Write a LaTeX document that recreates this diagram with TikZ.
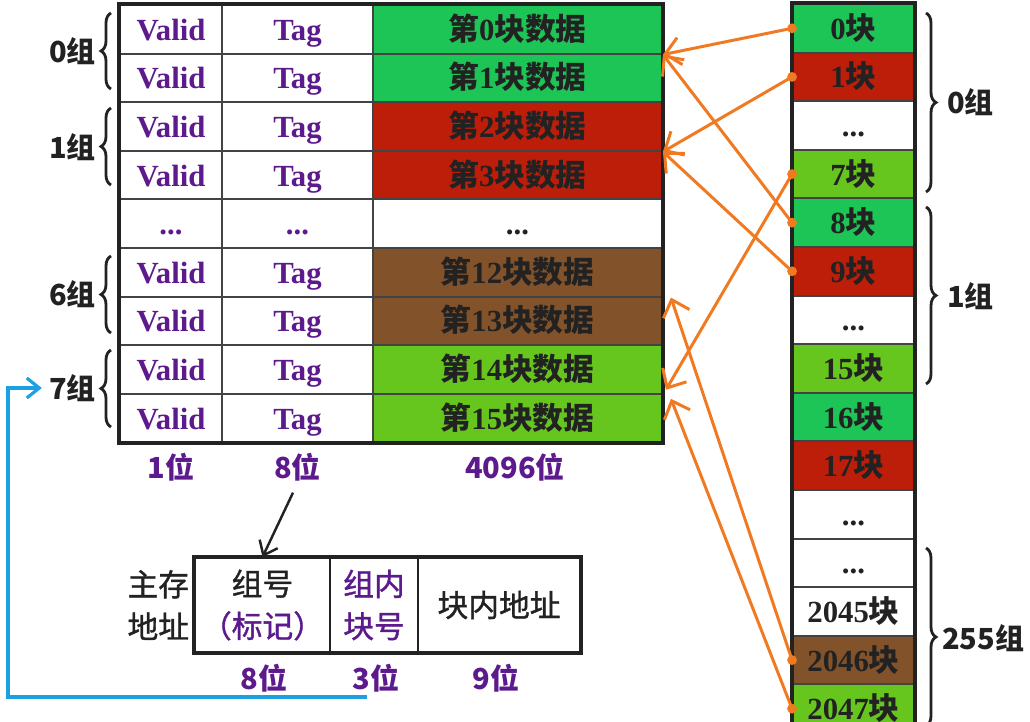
\documentclass[tikz,border=0pt]{standalone}
\usepackage{fontspec}
\setmainfont{Liberation Serif}
\newfontfamily\cjk{Noto Sans CJK SC}
\newfontfamily\cjkmid{Noto Sans CJK SC}[FakeBold=1.2]
\usetikzlibrary{arrows.meta,decorations.pathreplacing,calc}

\definecolor{vpurple}{RGB}{92,26,140}
\definecolor{blkgreen}{RGB}{29,196,86}
\definecolor{blkred}{RGB}{188,30,10}
\definecolor{blklime}{RGB}{103,198,30}
\definecolor{blkbrown}{RGB}{130,82,42}
\definecolor{maporange}{RGB}{240,122,34}
\definecolor{addrblue}{RGB}{27,161,226}
\definecolor{ink}{RGB}{34,34,34}

\newcommand{\zh}[1]{{\cjk #1}}
\newcommand{\blkdata}[1]{\zh{第}#1\zh{块数据}}
\newcommand{\blk}[1]{#1\zh{块}}

\tikzset{
  valcell/.style={draw=ink!85, line width=1.1pt, minimum width=2.04cm, minimum height=0.972cm,
    inner sep=0pt, text height=12.6pt, text depth=0pt, text=vpurple,
    font=\bfseries\fontsize{17.5}{19}\selectfont},
  tagcell/.style={valcell, minimum width=3.02cm},
  datacell/.style={valcell, minimum width=5.78cm, text=ink},
  memcell/.style={valcell, minimum width=2.42cm, text=ink},
  outline/.style={draw=ink, line width=2.2pt},
  grouplabel/.style={inner sep=1pt, text=ink, font=\cjk\bfseries\fontsize{16.5}{18}\selectfont},
  bitlabel/.style={inner sep=1pt, text=vpurple, font=\cjk\bfseries\fontsize{16.5}{18}\selectfont},
  groupbrace/.style={decorate, decoration={brace, amplitude=2mm}, line width=1.6pt, draw=ink},
  maplink/.style={draw=maporange, line width=1.7pt, -{Straight Barb[length=3mm, width=5.5mm]}},
  mapdot/.style={fill=maporange},
  addrcell/.style={draw=ink, line width=1.1pt, minimum height=1.88cm, inner sep=0pt,
    align=center, text=ink, font=\cjkmid\fontsize{17.5}{24}\selectfont},
  addrlink/.style={draw=addrblue, line width=1.8pt, -{Straight Barb[length=2.5mm, width=4mm]}}
}

\begin{document}
\begin{tikzpicture}[x=0.02cm, y=-0.02cm]
  \useasboundingbox (0,0) rectangle (1030,722);
  \clip (0,0) rectangle (1030,722);

  % cache lines: valid | tag | data
  \node[valcell] (v0) at (171,29.3) {Valid};
  \node[tagcell] (t0) at (297.5,29.3) {Tag};
  \node[datacell, fill=blkgreen] (d0) at (517.5,29.3) {\blkdata{0}};
  \node[valcell] (v1) at (171,77.9) {Valid};
  \node[tagcell] (t1) at (297.5,77.9) {Tag};
  \node[datacell, fill=blkgreen] (d1) at (517.5,77.9) {\blkdata{1}};
  \node[valcell] (v2) at (171,126.5) {Valid};
  \node[tagcell] (t2) at (297.5,126.5) {Tag};
  \node[datacell, fill=blkred] (d2) at (517.5,126.5) {\blkdata{2}};
  \node[valcell] (v3) at (171,175.1) {Valid};
  \node[tagcell] (t3) at (297.5,175.1) {Tag};
  \node[datacell, fill=blkred] (d3) at (517.5,175.1) {\blkdata{3}};
  \node[valcell] (v4) at (171,223.7) {...};
  \node[tagcell] (t4) at (297.5,223.7) {...};
  \node[datacell] (d4) at (517.5,223.7) {...};
  \node[valcell] (v5) at (171,272.3) {Valid};
  \node[tagcell] (t5) at (297.5,272.3) {Tag};
  \node[datacell, fill=blkbrown] (d5) at (517.5,272.3) {\blkdata{12}};
  \node[valcell] (v6) at (171,320.9) {Valid};
  \node[tagcell] (t6) at (297.5,320.9) {Tag};
  \node[datacell, fill=blkbrown] (d6) at (517.5,320.9) {\blkdata{13}};
  \node[valcell] (v7) at (171,369.5) {Valid};
  \node[tagcell] (t7) at (297.5,369.5) {Tag};
  \node[datacell, fill=blklime] (d7) at (517.5,369.5) {\blkdata{14}};
  \node[valcell] (v8) at (171,418.1) {Valid};
  \node[tagcell] (t8) at (297.5,418.1) {Tag};
  \node[datacell, fill=blklime] (d8) at (517.5,418.1) {\blkdata{15}};
  \draw[outline] (v0.north west) rectangle (d8.south east);

  \node[bitlabel] (w1) at (171,467) {1位};
  \node[bitlabel] (w8) at (297.5,467) {8位};
  \node[bitlabel] (w4096) at (515,467) {4096位};

  % cache groups
  \draw[groupbrace] (111,89) -- (111,13);
  \node[grouplabel, anchor=east] (g0L) at (98,51) {0组};
  \draw[groupbrace] (111,185) -- (111,108);
  \node[grouplabel, anchor=east] (g1L) at (98,147) {1组};
  \draw[groupbrace] (111,333) -- (111,256);
  \node[grouplabel, anchor=east] (g6L) at (98,294) {6组};
  \draw[groupbrace] (111,427) -- (111,350);
  \node[grouplabel, anchor=east] (g7L) at (98,388) {7组};

  % main memory blocks
  \node[memcell, fill=blkgreen] (b0) at (853.5,28.3) {\blk{0}};
  \node[memcell, fill=blkred] (b1) at (853.5,76.9) {\blk{1}};
  \node[memcell] (b2) at (853.5,125.5) {...};
  \node[memcell, fill=blklime] (b7) at (853.5,174.1) {\blk{7}};
  \node[memcell, fill=blkgreen] (b8) at (853.5,222.7) {\blk{8}};
  \node[memcell, fill=blkred] (b9) at (853.5,271.3) {\blk{9}};
  \node[memcell] (b10) at (853.5,319.9) {...};
  \node[memcell, fill=blklime] (b15) at (853.5,368.5) {\blk{15}};
  \node[memcell, fill=blkgreen] (b16) at (853.5,417.1) {\blk{16}};
  \node[memcell, fill=blkred] (b17) at (853.5,465.7) {\blk{17}};
  \node[memcell] (b18) at (853.5,514.3) {...};
  \node[memcell] (b19) at (853.5,562.9) {...};
  \node[memcell] (b2045) at (853.5,611.5) {\blk{2045}};
  \node[memcell, fill=blkbrown] (b2046) at (853.5,660.1) {\blk{2046}};
  \node[memcell, fill=blklime] (b2047) at (853.5,708.7) {\blk{2047}};
  \draw[outline] (b2047.south west) -- (b0.north west) -- (b0.north east) -- (b2047.south east);

  \draw[groupbrace] (926,13) -- (926,192);
  \node[grouplabel, anchor=west] (g0R) at (945,102) {0组};
  \draw[groupbrace] (926,207) -- (926,384);
  \node[grouplabel, anchor=west] (g1R) at (945,296) {1组};
  \draw[groupbrace] (926,548) -- (926,726);
  \node[grouplabel, anchor=west] (g255R) at (940,638) {255组};

  % mapping
  \draw[maplink] (b0.west) -- (d0.south east);
  \draw[maplink] (b1.west) -- (d2.south east);
  \draw[maplink] (b7.west) -- ($(d7.south east)+(3,-5)$);
  \draw[maplink] (b8.west) -- (d0.south east);
  \draw[maplink] (b9.west) -- (d2.south east);
  \draw[maplink] (b2046.west) -- ($(d5.south east)+(8,0)$);
  \draw[maplink] (b2047.west) -- ($(d7.south east)+(8,4)$);
  \fill[mapdot] (b0.west) circle (2.8pt);
  \fill[mapdot] (b1.west) circle (2.8pt);
  \fill[mapdot] (b7.west) circle (2.8pt);
  \fill[mapdot] (b8.west) circle (2.8pt);
  \fill[mapdot] (b9.west) circle (2.8pt);
  \fill[mapdot] (b2046.west) circle (2.8pt);
  \fill[mapdot] (b2047.west) circle (2.8pt);

  % main memory address
  \node[addrcell, minimum width=2.7cm] (tagf) at (262.5,605) {组号\\\textcolor{vpurple}{（标记）}};
  \node[addrcell, minimum width=1.76cm, text=vpurple] (setf) at (374,605) {组内\\块号};
  \node[addrcell, minimum width=3.24cm] (offf) at (499,605) {块内地址};
  \draw[outline] (tagf.north west) rectangle (offf.south east);
  \node[addrcell, draw=none, anchor=east] (mem) at (190,605) {主存\\地址};

  \node[bitlabel] (a8) at (264,678) {8位};
  \node[bitlabel] (a3) at (376,678) {3位};
  \node[bitlabel] (a9) at (496,678) {9位};

  \draw[ink, line width=1.4pt, shorten <=6pt, -{Straight Barb[length=2.5mm, width=4mm]}] (w8.south) -- (tagf.north);

  \coordinate (tagtail) at (367,697);
  \draw[addrlink, shorten >=3pt] (tagtail) -- (8,697) |- (g7L.west);
\end{tikzpicture}
\end{document}
